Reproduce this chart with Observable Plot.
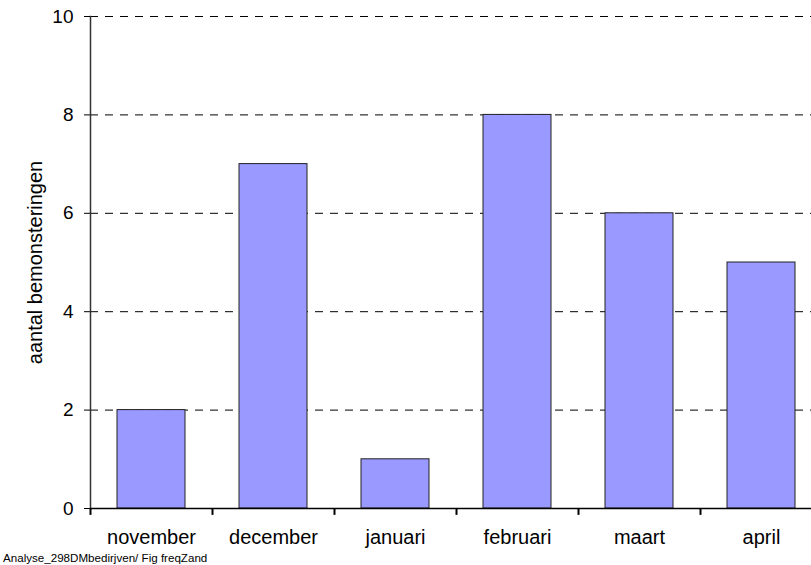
<!DOCTYPE html>
<html>
<head>
<meta charset="utf-8">
<script src="https://cdn.jsdelivr.net/npm/d3@7"></script>
<script src="https://cdn.jsdelivr.net/npm/@observablehq/plot@0.6"></script>
<style>
  html, body { margin: 0; padding: 0; background: #fff; overflow: hidden; }
  #chart { width: 811px; height: 550px; overflow: hidden; }
  #chart svg { max-width: none !important; }
  #caption { font-family: "Liberation Sans", Arial, sans-serif; font-size: 11.6px; line-height: 15px; height: 15px; padding-left: 3px; color: #000; white-space: nowrap; }
</style>
</head>
<body>
<div id="chart"></div>
<div id="caption">Analyse_298DMbedirjven/ Fig freqZand</div>
<script>
const months = ["november", "december", "januari", "februari", "maart", "april"];
const counts = [2, 7, 1, 8, 6, 5];
const yTicks = [0, 2, 4, 6, 8, 10];
const gridTicks = [2, 4, 6, 8, 10];
const yLabel = "aantal bemonsteringen";

const data = months.map((m, i) => ({month: m, count: counts[i]}));

const chart = Plot.plot({
  width: 822,
  height: 550,
  marginLeft: 90,
  marginRight: 0,
  marginTop: 16,
  marginBottom: 42,
  style: {fontFamily: "'Liberation Sans', Arial, sans-serif", fontSize: "20px", color: "#000", background: "#fff", maxWidth: "none"},
  x: {domain: months, paddingInner: 0.44, paddingOuter: 0.22},
  y: {domain: [0, 10], ticks: yTicks},
  marks: [
    Plot.ruleY(gridTicks, {stroke: "#000", strokeDasharray: "8,7"}),
    Plot.barY(data, {x: "month", y: "count", fill: "#9999ff", stroke: "#222", strokeWidth: 1}),
    Plot.ruleY([0], {stroke: "#000", strokeWidth: 1.5}),
    Plot.frame({anchor: "left", stroke: "#333", strokeWidth: 1.5}),
    Plot.axisY({ticks: yTicks, tickSize: 6, tickPadding: 11, label: null, fontSize: 19}),
    Plot.axisX({tickSize: 0, tickPadding: 21, label: null, fontSize: 20}),
    Plot.ruleX(months, {x: d => d, dx: -61, y1: 0, y2: -0.14, stroke: "#000", strokeWidth: 2, clip: false}),
    Plot.text([yLabel], {frameAnchor: "left", dx: -55, rotate: -90, textAnchor: "middle", lineAnchor: "middle", fontSize: 20})
  ]
});
document.getElementById("chart").appendChild(chart);
</script>
</body>
</html>
